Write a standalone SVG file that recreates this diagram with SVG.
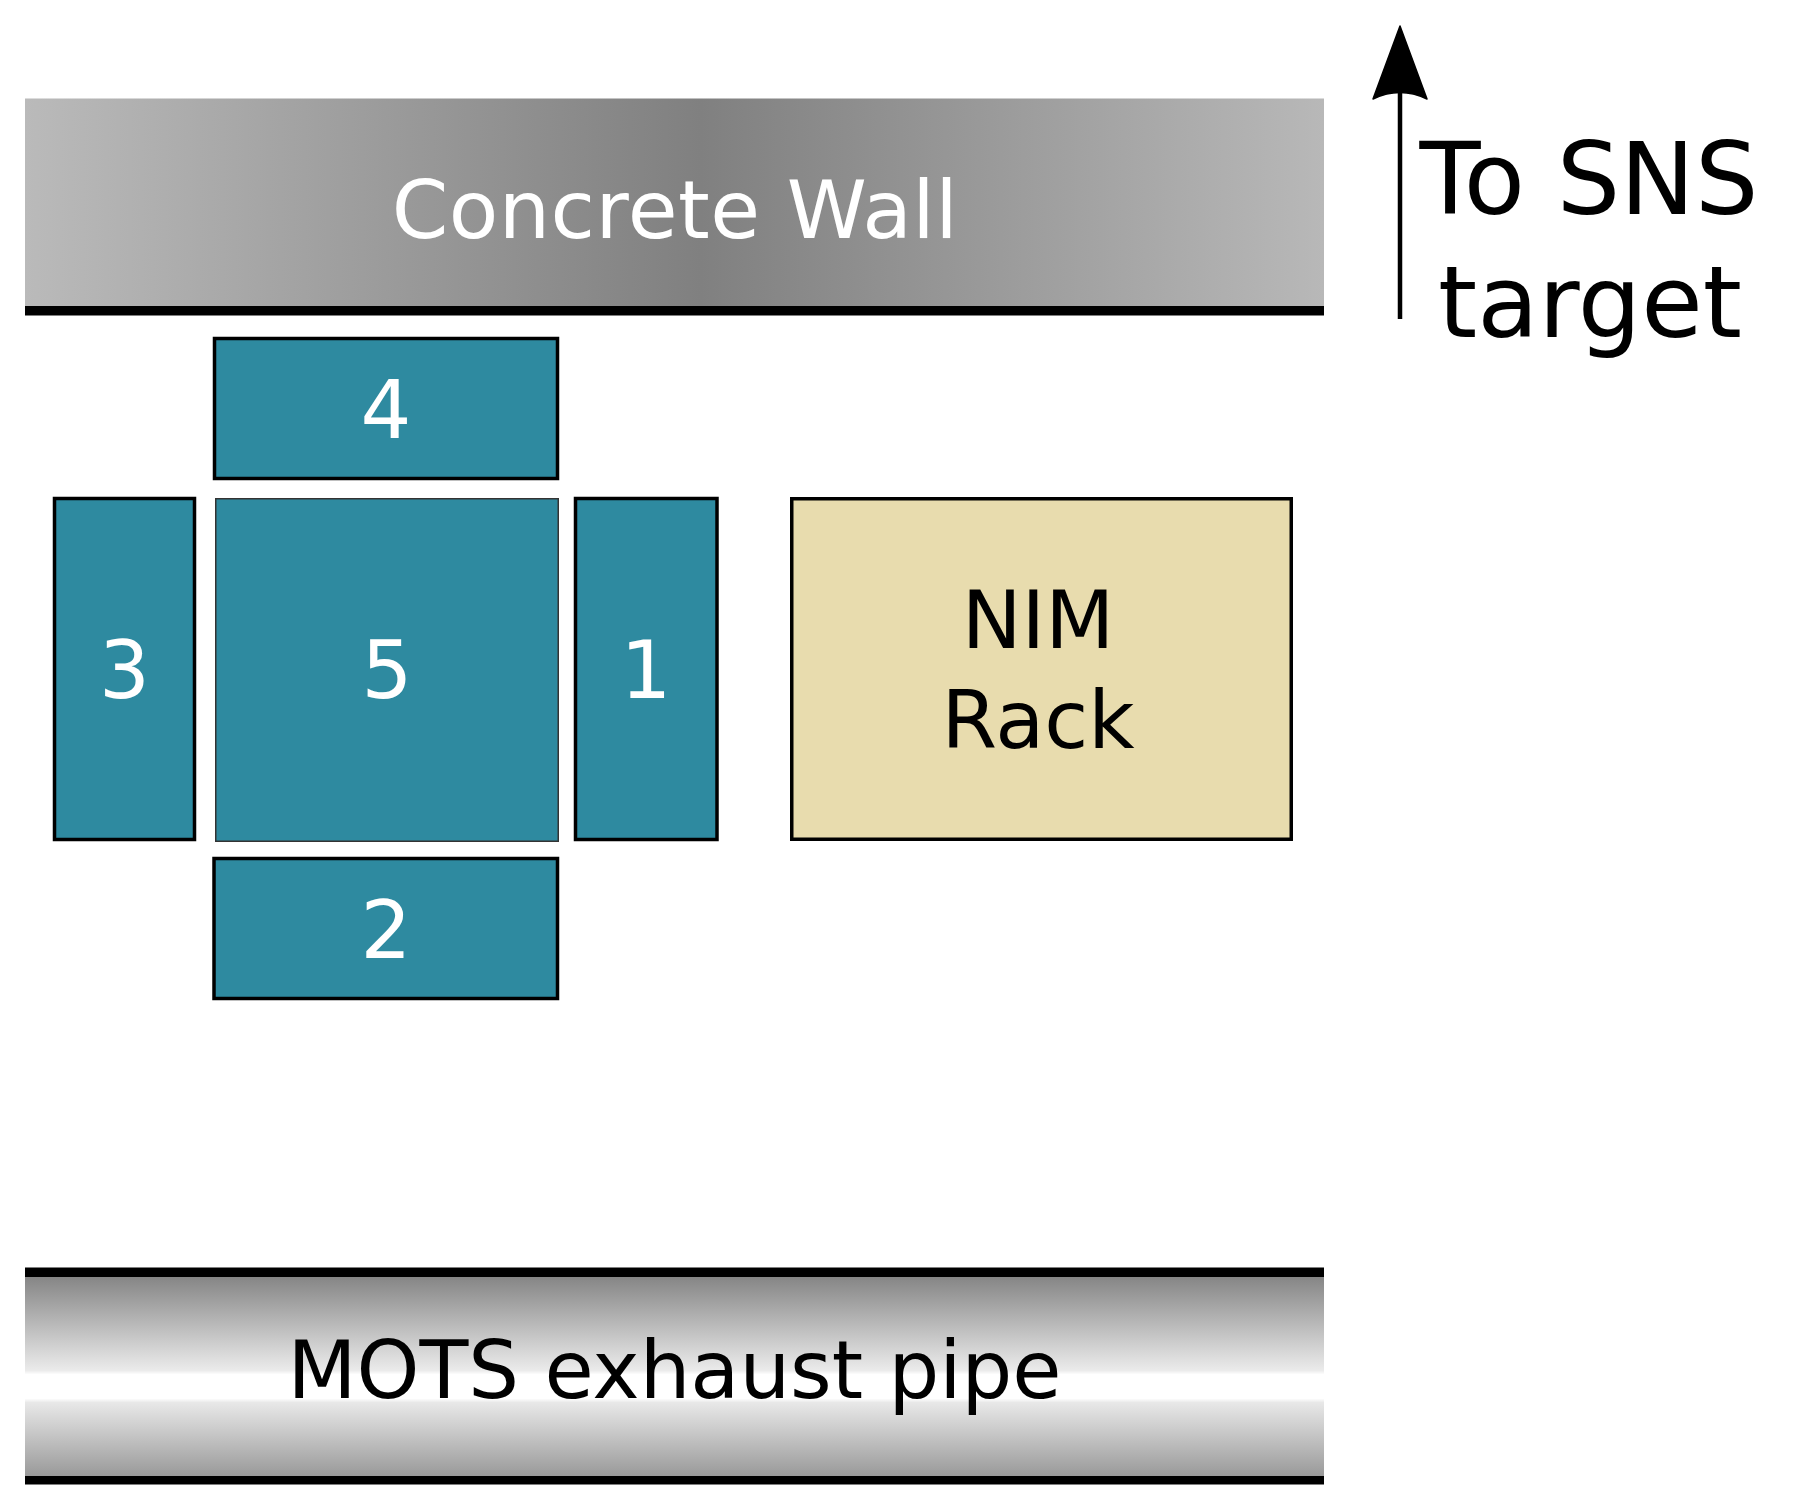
<svg xmlns="http://www.w3.org/2000/svg" width="1808" height="1494" viewBox="0 0 1808 1494">
  <defs>
    <linearGradient id="wallGrad" x1="0" y1="0" x2="1" y2="0">
      <stop offset="0" stop-color="#bababa"/>
      <stop offset="0.52" stop-color="#808080"/>
      <stop offset="1" stop-color="#b8b8b8"/>
    </linearGradient>
    <linearGradient id="pipeGrad" x1="0" y1="0" x2="0" y2="1">
      <stop offset="0" stop-color="#858585"/>
      <stop offset="0.47" stop-color="#ebebeb"/>
      <stop offset="0.49" stop-color="#ffffff"/>
      <stop offset="0.61" stop-color="#ffffff"/>
      <stop offset="0.63" stop-color="#e8e8e8"/>
      <stop offset="1" stop-color="#999999"/>
    </linearGradient>
    <style>
      .lbl { font-family: "DejaVu Sans", Verdana, sans-serif; font-size: 80px; text-anchor: middle; }
      .det { fill: #2e8aa0; stroke: #000000; stroke-width: 3.5; }
      .det5 { fill: #2e8aa0; stroke: #333333; stroke-width: 1.5; }
      .num { fill: #ffffff; }
      .dark { fill: #000000; }
    </style>
  </defs>
  <rect width="1808" height="1494" fill="#ffffff"/>

  <g id="concrete-wall">
    <rect x="25" y="98.5" width="1299" height="208" fill="url(#wallGrad)"/>
    <rect x="25" y="306" width="1299" height="9.5" fill="#000000"/>
    <text class="lbl num" x="675" y="238" style="font-size:81px;letter-spacing:0.5px">Concrete Wall</text>
  </g>

  <g id="mots-pipe">
    <rect x="25" y="1276.5" width="1299" height="200" fill="url(#pipeGrad)"/>
    <rect x="25" y="1267.5" width="1299" height="9.5" fill="#000000"/>
    <rect x="25" y="1476" width="1299" height="8.5" fill="#000000"/>
    <text class="lbl dark" x="674.5" y="1398">MOTS exhaust pipe</text>
  </g>

  <g id="det4">
    <rect class="det" x="214.5" y="338.5" width="343" height="140"/>
    <text class="lbl num" x="386" y="437.5">4</text>
  </g>
  <g id="det3">
    <rect class="det" x="54.5" y="498.5" width="140" height="341"/>
    <text class="lbl num" x="124.5" y="698">3</text>
  </g>
  <g id="det5">
    <rect class="det5" x="215.75" y="498.75" width="342.5" height="342.5"/>
    <text class="lbl num" x="387" y="698">5</text>
  </g>
  <g id="det1">
    <rect class="det" x="575.5" y="498.5" width="141.5" height="341"/>
    <text class="lbl num" x="646" y="698">1</text>
  </g>
  <g id="det2">
    <rect class="det" x="214" y="858.5" width="343.5" height="140"/>
    <text class="lbl num" x="386" y="958">2</text>
  </g>

  <g id="nim-rack">
    <rect x="791.75" y="498.75" width="499.5" height="340.5" fill="#e8dcae" stroke="#000000" stroke-width="3.5"/>
    <text class="lbl dark" x="1038" y="648">NIM</text>
    <text class="lbl dark" x="1038" y="748">Rack</text>
  </g>

  <g id="connectors">
    <line x1="1400" y1="319" x2="1400" y2="92" stroke="#000000" stroke-width="4.5"/>
    <path d="M1400,26 L1427,99 Q1400,86 1373,99 Z" fill="#000000" stroke="#000000" stroke-width="1.5" stroke-linejoin="round"/>
  </g>

  <g id="direction-label">
    <text class="lbl dark" x="1589" y="214" style="font-size:100px">To SNS</text>
    <text class="lbl dark" x="1590" y="337" style="font-size:100px">target</text>
  </g>
</svg>
